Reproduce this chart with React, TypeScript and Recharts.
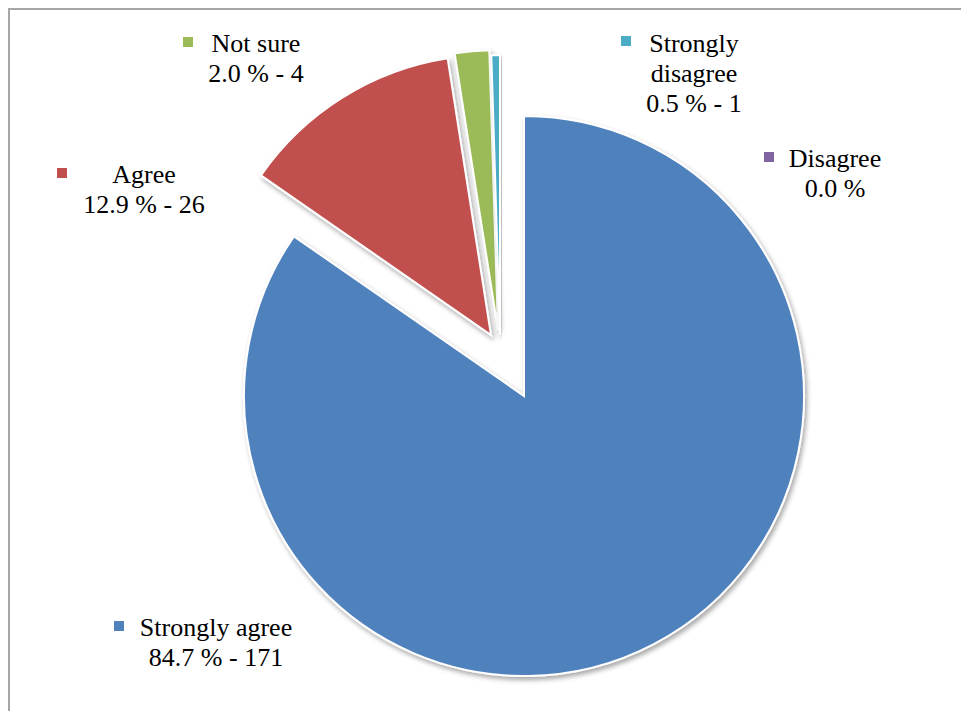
import React from 'react';
import { PieChart, Pie, Cell, Sector } from 'recharts';

const categories = ['Strongly agree', 'Agree', 'Not sure', 'Strongly disagree', 'Disagree'];
const counts = [171, 26, 4, 1, 0];
const colors = ['#4F81BD', '#C0504D', '#9BBB59', '#4BACC6', '#8064A2'];

const data = categories.map((name, i) => ({ name, value: counts[i] }));

// explosion offsets of the pulled-out slices (styling)
const explode: Record<string, [number, number]> = {
  'Agree': [-33, -61],
  'Not sure': [-26, -66],
  'Strongly disagree': [-24, -61],
};

// label layout (text centre x, first baseline y, key left, key top) in svg coords
const labelLayout: Record<string, { tx: number; ty: number; kx: number; ky: number }> = {
  'Strongly agree': { tx: 206, ty: 626, kx: 104, ky: 611 },
  'Agree': { tx: 134, ty: 173, kx: 47, ky: 158 },
  'Not sure': { tx: 246, ty: 42, kx: 173, ky: 27 },
  'Strongly disagree': { tx: 684, ty: 42, kx: 611, ky: 26 },
  'Disagree': { tx: 825, ty: 157, kx: 754, ky: 142 },
};

const FONT = "'Liberation Serif', 'DejaVu Serif', 'Noto Serif', serif";
const LINE = 30;

const renderShape = (props: any) => {
  const name = props?.payload?.name ?? props?.name;
  const off = explode[name] || [0, 0];
  return (
    <Sector
      cx={props.cx + off[0]}
      cy={props.cy + off[1]}
      innerRadius={props.innerRadius}
      outerRadius={props.outerRadius}
      startAngle={props.startAngle}
      endAngle={props.endAngle}
      fill={props.fill}
      stroke="#ffffff"
      strokeWidth={2}
      filter="url(#sliceShadow)"
    />
  );
};

const renderLabel = (props: any) => {
  const name = props?.payload?.name ?? props?.name;
  const value = props?.payload?.value ?? props?.value;
  const idx = categories.indexOf(name);
  const lay = labelLayout[name];
  if (!lay) return null;
  const pct = ((props.percent || 0) * 100).toFixed(1);
  const last = value > 0 ? `${pct} % - ${value}` : `${pct} %`;
  const lines = name === 'Strongly disagree' ? ['Strongly', 'disagree', last] : [name, last];
  return (
    <g key={`lbl-${name}`}>
      <rect x={lay.kx} y={lay.ky} width={10} height={10} fill={colors[idx]} />
      {lines.map((t, i) => (
        <text
          key={i}
          x={lay.tx}
          y={lay.ty + i * LINE}
          textAnchor="middle"
          fontFamily={FONT}
          fontSize={26}
          fill="#000"
        >
          {t}
        </text>
      ))}
    </g>
  );
};

export default function App() {
  return (
    <div style={{ fontFamily: FONT }}>
      <svg width={0} height={0} style={{ position: 'absolute' }}>
        <defs>
          <filter id="sliceShadow" x="-20%" y="-20%" width="140%" height="140%">
            <feDropShadow dx="2" dy="3" stdDeviation="2.5" floodColor="#000" floodOpacity="0.35" />
          </filter>
        </defs>
      </svg>
      <div
        style={{
          width: 959,
          height: 701,
          borderLeft: '2px solid #a6a6a6',
          borderTop: '2px solid #a6a6a6',
          background: '#fff',
        }}
      >
        <PieChart width={959} height={701} margin={{ top: 0, right: 0, bottom: 0, left: 0 }}>
          <Pie
            data={data}
            dataKey="value"
            nameKey="name"
            cx={514}
            cy={386}
            outerRadius={280}
            startAngle={90}
            endAngle={-270}
            isAnimationActive={false}
            stroke="#fff"
            strokeWidth={2}
            shape={renderShape}
            inactiveShape={renderShape}
            activeShape={renderShape}
            label={renderLabel}
            labelLine={false}
          >
            {data.map((d, i) => (
              <Cell key={d.name} fill={colors[i]} />
            ))}
          </Pie>
        </PieChart>
      </div>
    </div>
  );
}
